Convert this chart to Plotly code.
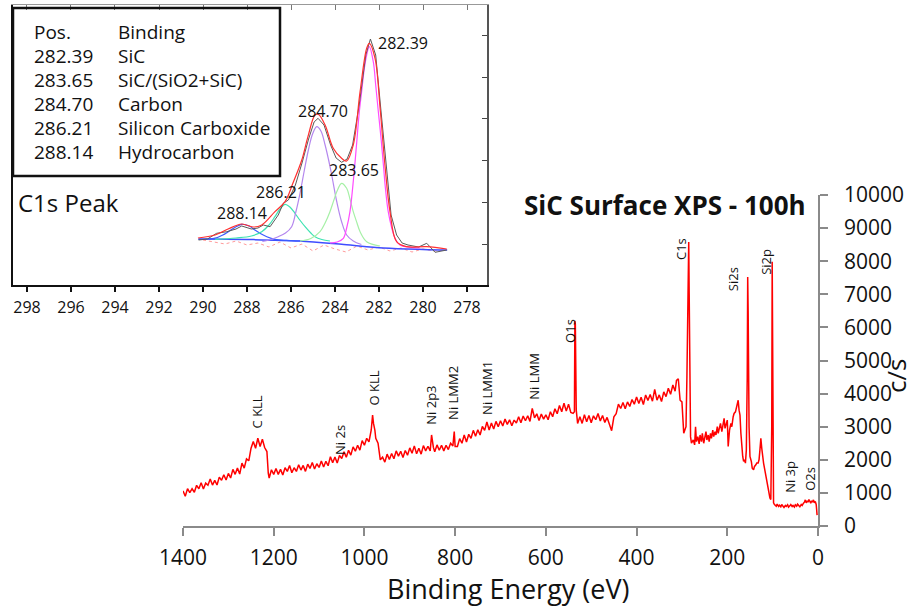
import plotly.graph_objects as go

W, H = 917, 610


def px(x):
    return x / W


def py(y):
    return 1 - y / H


# ---------------- survey spectrum (binding energy eV, counts/s) ----------------
survey_ev = [
    1400, 1395, 1390, 1385, 1380, 1375, 1370, 1365, 1360, 1355, 1350, 1345, 1340, 1335, 1330, 1325, 1320, 1315, 1310, 1305,
    1300, 1295, 1290, 1285, 1280, 1275, 1270, 1265, 1260, 1255, 1250, 1245, 1240, 1235, 1230, 1225, 1220, 1215, 1212, 1210, 1205,
    1200, 1195, 1190, 1185, 1180, 1175, 1170, 1165, 1160, 1155, 1150, 1145, 1140, 1135, 1130, 1125, 1120, 1115, 1110, 1105,
    1100, 1095, 1090, 1085, 1080, 1075, 1070, 1065, 1060, 1055, 1050, 1045, 1040, 1035, 1030, 1025, 1020, 1015, 1010, 1005,
    1000, 995, 990, 985, 982, 980, 977, 975, 970, 965, 960, 955, 950, 945, 940, 935, 930, 925, 920, 915, 910, 905,
    900, 895, 890, 885, 880, 875, 870, 865, 860, 855, 852, 848, 845, 840, 835, 830, 825, 820, 815, 810, 805, 802, 800,
    795, 790, 785, 780, 775, 770, 765, 760, 755, 750, 745, 740, 735, 730, 725, 720, 715, 710, 705,
    700, 695, 690, 685, 680, 675, 670, 665, 660, 655, 650, 645, 640, 635, 630, 625, 620, 615, 610, 605,
    600, 595, 590, 585, 580, 575, 570, 565, 560, 555, 550, 545,
    540, 537, 536, 535, 533,
    530, 525, 520, 515, 510, 505, 500, 495, 490, 485, 480, 475, 470, 465, 460, 455, 450, 445, 440, 435,
    430, 425, 420, 415, 410, 405, 400, 395, 390, 385, 380, 375, 370, 365, 360, 355, 350, 345, 340, 335,
    330, 325, 320, 315, 312, 308, 304, 300, 296, 293,
    291, 289, 287, 285.5, 285, 284, 283, 282, 281, 279,
    275, 272, 270, 268, 265, 262, 260, 257, 255, 252, 250, 247, 245, 242, 240, 237, 235, 232, 230, 227,
    225, 222, 220, 217, 215, 212, 210, 207, 205, 202, 200, 198, 195, 192, 190, 187, 185, 182, 180, 178,
    176, 174, 172, 170, 168, 166, 164, 162, 160, 158, 156, 155, 154, 152, 150, 147, 145, 142, 140, 137,
    135, 132, 130, 128, 126, 124, 122, 120, 118, 116, 114, 112, 110, 108, 106, 104, 102, 101, 100, 99,
    98, 96, 95, 92, 90, 87, 85, 82, 80, 77, 75, 72, 70, 67, 65, 62, 60, 57, 55, 52,
    50, 47, 45, 42, 40, 37, 35, 32, 30, 28, 26, 24, 22, 20, 18, 16, 14, 12, 10, 8,
    6, 4, 3, 2,
]
survey_cps = [
    1060, 900, 1130, 1010, 1130, 1020, 1230, 1125, 1310, 1120, 1295, 1230, 1420, 1236, 1380, 1240, 1476, 1380, 1550, 1390,
    1590, 1450, 1710, 1560, 1750, 1570, 1900, 1750, 2030, 1970, 2350, 2550, 2350, 2650, 2400, 2620, 2370, 2250, 1600, 1450, 1700,
    1560, 1740, 1560, 1710, 1540, 1760, 1650, 1830, 1610, 1760, 1650, 1850, 1690, 1830, 1650, 1870, 1740, 1920, 1720, 1880,
    1770, 1965, 1780, 1955, 1820, 2095, 1910, 2085, 1900, 2130, 2040, 2240, 2080, 2290, 2140, 2390, 2260, 2440, 2290, 2580,
    2440, 2650, 2540, 2900, 3350, 3100, 2900, 2650, 2500, 2000, 2080, 1930, 2170, 2010, 2190, 2030, 2270, 2110, 2260, 2070, 2280, 2140,
    2360, 2200, 2420, 2180, 2350, 2170, 2430, 2270, 2410, 2270, 2750, 2380, 2240, 2450, 2290, 2440, 2270, 2440, 2310, 2500, 2420, 2850, 2400,
    2400, 2640, 2500, 2750, 2540, 2770, 2650, 2890, 2710, 2910, 2750, 3010, 2890, 3140, 2900, 3110, 2930, 3160, 3000,
    3180, 3020, 3230, 3070, 3210, 3030, 3200, 3110, 3300, 3120, 3320, 3180, 3330, 3160, 3550, 3270, 3390, 3190, 3380, 3230,
    3360, 3210, 3450, 3300, 3540, 3390, 3640, 3450, 3710, 3470, 3680, 3430,
    3400, 3450, 6200, 6100, 3500,
    3100, 3300, 3100, 3360, 3150, 3340, 3120, 3330, 3210, 3400, 3170, 3340, 3130, 3280, 3050, 2880, 3300, 3390, 3680, 3550,
    3730, 3540, 3750, 3610, 3820, 3680, 3900, 3700, 3890, 3670, 3960, 3790, 3970, 3770, 4130, 3800, 3960, 3760, 4050, 3910,
    4160, 3980, 4260, 4070, 4400, 4450, 3800, 3750, 2800, 2900,
    3000, 4500, 6800, 8300, 8580, 7000, 5000, 3500, 2700, 2500,
    2600, 2450, 3000, 2550, 2700, 2480, 2750, 2550, 2800, 2500, 2650, 2850, 2600, 2750, 2550, 2800, 2650, 2900, 2700, 2850,
    2750, 3000, 2800, 2950, 3100, 2850, 3000, 3250, 2950, 3150, 3200, 2400, 2900, 3100, 3000, 3300, 3400, 3450, 3600, 3750,
    3800, 3500, 3350, 2800, 2400, 2100, 1950, 2000, 1900, 2300, 4500, 7520, 6500, 3000, 2100, 1950, 1750, 1700, 1800, 1850,
    1900, 1900, 2000, 2300, 2650, 2350, 2050, 1900, 1750, 1600, 1450, 1300, 1100, 950, 850, 800, 3000, 7980, 4000, 1200,
    700, 650, 640, 600, 660, 590, 630, 580, 650, 600, 560, 620, 590, 640, 570, 610, 650, 590, 620, 570,
    640, 600, 660, 610, 580, 650, 620, 690, 720, 790, 700, 760, 720, 800, 730, 690, 760, 720, 790, 700,
    740, 650, 500, 330,
]

x_ticks = [0, 200, 400, 600, 800, 1000, 1200, 1400]
y_ticks = [0, 1000, 2000, 3000, 4000, 5000, 6000, 7000, 8000, 9000, 10000]
y_tick_text = [str(v) for v in y_ticks]

# peak labels: (text, binding energy, counts at label base)
peak_labels = ["C KLL", "Ni 2s", "O KLL", "Ni 2p3", "Ni LMM2", "Ni LMM1", "Ni LMM", "O1s",
               "C1s", "Si2s", "Si2p", "Ni 3p", "O2s"]
peak_label_ev = [1237, 1054, 979, 855, 805, 730, 628, 547, 302, 187, 115, 62, 18]
peak_label_cps = [2900, 2085, 3595, 2990, 3142, 3293, 3746, 5468, 7976, 7039, 7523, 937, 997]

# ---------------- C1s high-resolution inset (eV, arbitrary intensity) ----------------
c1s_data_ev = [290.2, 289.8, 289.38, 288.92, 288.5, 288.24, 287.8, 287.5, 287.26, 286.95, 286.58, 286.35,
               286.12, 285.8, 285.5, 285.2, 284.95, 284.77, 284.5, 284.2, 283.95, 283.7, 283.45, 283.2,
               282.9, 282.6, 282.39, 282.15, 281.9, 281.7, 281.45, 281.2, 280.95, 280.68, 280.2, 279.83,
               279.45, 278.92]
c1s_data_int = [45, 46, 51.7, 53.3, 56, 59, 56, 57, 60, 58.3, 70, 81.7,
                85, 100, 122, 146, 163, 166.7, 160, 140, 127, 122.7, 126, 140,
                180, 230, 246, 230, 172, 125, 70, 50, 42, 40, 38, 41.7,
                32.7, 35]

c1s_fit_ev = [290.23, 289.45, 288.86, 288.24, 287.73, 287.33, 286.73, 286.27, 285.91, 285.51, 285.23,
              284.91, 284.76, 284.45, 284.08, 283.70, 283.47, 283.17, 282.86, 282.56, 282.44, 282.18,
              281.95, 281.73, 281.50, 281.20, 280.74, 279.83, 278.92]
c1s_fit_int = [47, 50, 56, 61, 58, 60, 73.3, 83.3, 102, 125, 148.3,
               170, 170.7, 160, 136.7, 126.7, 124, 140, 193.3, 236.7, 241.7, 226.7,
               176.7, 120, 73.3, 43.3, 38.3, 38.3, 36]

hydrocarbon_ev = [290.21, 289.8, 289.45, 289.1, 288.85, 288.55, 288.24, 287.9, 287.64, 287.35, 287.10, 286.73, 286.2, 285.59]
hydrocarbon_int = [45.7, 46, 46.8, 50, 53.3, 57.5, 60.7, 59, 55, 51, 48.3, 45.7, 44.6, 44]

carboxide_ev = [289.45, 288.5, 287.8, 287.33, 287.0, 286.73, 286.5, 286.27, 286.05, 285.82, 285.6, 285.36, 285.1, 284.91, 284.6, 284.23]
carboxide_int = [45.7, 47, 49, 53.3, 60, 68.3, 76, 80.7, 78, 71.7, 65, 58.3, 52, 48.3, 45.5, 44]

carbon_ev = [287.3, 287.0, 286.58, 286.25, 285.97, 285.78, 285.59, 285.4, 285.21, 285.02, 284.83, 284.64,
             284.45, 284.3, 284.15, 283.92, 283.70, 283.47, 283.17, 282.8]
carbon_int = [43.5, 45, 48.3, 52, 58.3, 73, 91.7, 114, 135, 151, 158.3, 154,
              140, 126, 110, 83.3, 63.3, 50, 44, 40.5]

sic_sio2_ev = [285.59, 285.1, 284.68, 284.45, 284.23, 284.05, 283.92, 283.70, 283.47, 283.32, 283.17, 283.0, 282.86, 282.56, 281.95]
sic_sio2_int = [44, 46.5, 53.3, 62, 73.3, 85, 93.3, 101.7, 96.7, 86, 73.3, 62, 53.3, 43.3, 39]

sic_ev = [284.23, 283.9, 283.62, 283.47, 283.32, 283.15, 283.01, 282.9, 282.79, 282.67, 282.56, 282.44,
          282.26, 282.15, 282.03, 281.9, 281.80, 281.7, 281.58, 281.42, 281.27, 281.05, 280.14]
sic_int = [42, 43, 46.7, 57, 73.3, 108, 143.3, 172, 193.3, 216, 230, 238.3,
           223.3, 200, 173.3, 145, 120, 95, 73.3, 57, 46.7, 40, 37]

background_ev = [290.2, 288.0, 285.6, 283.6, 281.8, 280.0, 278.9]
background_int = [46, 45.5, 44, 40.5, 37, 35.5, 35]

residual_ev = [290.0, 289.5, 289.0, 288.5, 288.0, 287.5, 287.0, 286.5, 286.0, 285.5, 285.0, 284.5,
               284.0, 283.5, 283.0, 282.5, 282.0, 281.5, 281.0, 280.5, 280.0, 279.5, 279.0]
residual_int = [45, 43, 41, 44, 40, 42, 38, 43, 37, 41, 34, 40,
                36, 33, 39, 35, 38, 34, 37, 33, 36, 34, 35]

inset_ticks = [298, 296, 294, 292, 290, 288, 286, 284, 282, 280, 278]
inset_right_ticks = [41, 83, 125, 167, 208, 250]

table_pos = ["Pos.", "282.39", "283.65", "284.70", "286.21", "288.14"]
table_binding = ["Binding", "SiC", "SiC/(SiO2+SiC)", "Carbon", "Silicon Carboxide", "Hydrocarbon"]

inset_peak_text = ["282.39", "284.70", "283.65", "286.21", "288.14"]
inset_peak_xy = [(376, 43), (296, 111), (327, 170), (254, 192), (215, 213)]

FONT = "Open Sans"

fig = go.Figure()

# inset traces
inset_series = [
    (residual_ev, residual_int, "#ff9a9a", 1, "dot", "linear"),
    (background_ev, background_int, "#3f4dff", 1.5, "solid", "spline"),
    (hydrocarbon_ev, hydrocarbon_int, "#3b5bff", 1.2, "solid", "spline"),
    (carboxide_ev, carboxide_int, "#3fe3b2", 1.2, "solid", "spline"),
    (carbon_ev, carbon_int, "#b487ee", 1.2, "solid", "spline"),
    (sic_sio2_ev, sic_sio2_int, "#a6f0a6", 1.2, "solid", "spline"),
    (sic_ev, sic_int, "#ff4cff", 1.2, "solid", "spline"),
    (c1s_data_ev, c1s_data_int, "#5a5a5a", 1, "solid", "linear"),
    (c1s_fit_ev, c1s_fit_int, "#ff3030", 1.2, "solid", "spline"),
]
for xs, ys, col, w, dash, shape in inset_series:
    fig.add_trace(go.Scatter(x=xs, y=ys, mode="lines", xaxis="x2", yaxis="y2",
                             line=dict(color=col, width=w, dash=dash, shape=shape),
                             hoverinfo="skip"))

# invisible trace so the inset's top/right frame axes get drawn
fig.add_trace(go.Scatter(x=[c1s_fit_ev[0]], y=[c1s_fit_int[0]], mode="markers", xaxis="x3", yaxis="y3",
                         marker=dict(opacity=0), hoverinfo="skip"))

# survey trace
fig.add_trace(go.Scatter(x=survey_ev, y=survey_cps, mode="lines", xaxis="x", yaxis="y",
                         line=dict(color="#ff0000", width=1.5), hoverinfo="skip"))

annotations = []
for t, e, c in zip(peak_labels, peak_label_ev, peak_label_cps):
    annotations.append(dict(x=e, y=c, xref="x", yref="y", text=t, showarrow=False,
                            textangle=-90, xanchor="center", yanchor="bottom",
                            font=dict(family=FONT, size=13, color="#111")))

# table text
row_y = [32, 56, 80, 104, 128, 152]
for i, yy in enumerate(row_y):
    annotations.append(dict(x=px(32), y=py(yy), xref="paper", yref="paper", text=table_pos[i],
                            showarrow=False, xanchor="left", yanchor="middle",
                            font=dict(family=FONT, size=19, color="#111")))
    annotations.append(dict(x=px(116), y=py(yy), xref="paper", yref="paper", text=table_binding[i],
                            showarrow=False, xanchor="left", yanchor="middle",
                            font=dict(family=FONT, size=19, color="#111")))

for t, (xx, yy) in zip(inset_peak_text, inset_peak_xy):
    annotations.append(dict(x=px(xx), y=py(yy), xref="paper", yref="paper", text=t,
                            showarrow=False, xanchor="left", yanchor="middle",
                            font=dict(family=FONT, size=16, color="#111")))

annotations.append(dict(x=px(16), y=py(202), xref="paper", yref="paper", text="C1s Peak",
                        showarrow=False, xanchor="left", yanchor="middle",
                        font=dict(family=FONT, size=24, color="#111")))
annotations.append(dict(x=px(665), y=py(205), xref="paper", yref="paper",
                        text="<b>SiC Surface XPS - 100h</b>", showarrow=False,
                        xanchor="center", yanchor="middle",
                        font=dict(family=FONT, size=26, color="#111")))
annotations.append(dict(x=px(508), y=py(588), xref="paper", yref="paper",
                        text="Binding Energy (eV)", showarrow=False,
                        xanchor="center", yanchor="middle",
                        font=dict(family=FONT, size=27, color="#111")))
annotations.append(dict(x=px(896), y=py(376), xref="paper", yref="paper",
                        text="c/s", showarrow=False, textangle=-90,
                        xanchor="center", yanchor="middle", borderpad=0,
                        font=dict(family=FONT, size=26, color="#111")))

shapes = [
    dict(type="rect", xref="paper", yref="paper", x0=px(13), x1=px(280), y0=py(176), y1=py(8),
         line=dict(color="#111", width=2.5), fillcolor="rgba(0,0,0,0)"),
]

fig.update_layout(
    width=W, height=H,
    margin=dict(l=0, r=0, t=0, b=0, pad=0, autoexpand=False),
    paper_bgcolor="white", plot_bgcolor="rgba(0,0,0,0)",
    showlegend=False,
    font=dict(family=FONT, color="#111"),
    annotations=annotations,
    shapes=shapes,
    xaxis=dict(domain=[px(183), px(818)], range=[1400, 0], anchor="y", automargin=False,
               tickvals=x_ticks, ticks="outside", ticklen=8, tickwidth=1.5, tickcolor="#8a8a8a",
               showline=True, linecolor="#8a8a8a", linewidth=1.5, showgrid=False, zeroline=False,
               tickfont=dict(family=FONT, size=21, color="#111"), ticklabelstandoff=4),
    yaxis=dict(domain=[py(526), py(195)], range=[0, 10000], anchor="x", side="right", automargin=False,
               tickvals=y_ticks, ticktext=y_tick_text, ticks="outside", ticklen=8, tickwidth=1.5,
               tickcolor="#8a8a8a",
               showline=True, linecolor="#8a8a8a", linewidth=1.5, showgrid=False, zeroline=False,
               tickfont=dict(family=FONT, size=21, color="#111"), ticklabelstandoff=12),
    xaxis2=dict(domain=[px(13), px(487)], range=[298.636, 277.091], anchor="y2", automargin=False,
                tickvals=inset_ticks, ticks="outside", ticklen=5, tickwidth=1.5, tickcolor="#111",
                showline=True, linecolor="#111", linewidth=2, showgrid=False, zeroline=False,
                tickfont=dict(family=FONT, size=16, color="#111"), ticklabelstandoff=2),
    yaxis2=dict(domain=[py(285), py(5)], range=[0, 280], anchor="x2", automargin=False,
                showline=True, linecolor="#111", linewidth=2, showgrid=False, zeroline=False,
                showticklabels=False, ticks=""),
    xaxis3=dict(overlaying="x2", side="top", anchor="y2", range=[298.636, 277.091], automargin=False,
                tickvals=inset_ticks, ticks="inside", ticklen=5, tickcolor="#777",
                showline=True, linecolor="#999", linewidth=1, showgrid=False, zeroline=False,
                showticklabels=False),
    yaxis3=dict(overlaying="y2", side="right", anchor="x2", range=[0, 280], automargin=False,
                tickvals=inset_right_ticks, ticks="inside", ticklen=5, tickcolor="#444",
                showline=True, linecolor="#555", linewidth=2, showgrid=False, zeroline=False,
                showticklabels=False),
)

fig.write_html(
    "out.html",
    config={"displayModeBar": False},
    post_script="document.body.style.margin='0';document.body.style.overflow='hidden';",
)
